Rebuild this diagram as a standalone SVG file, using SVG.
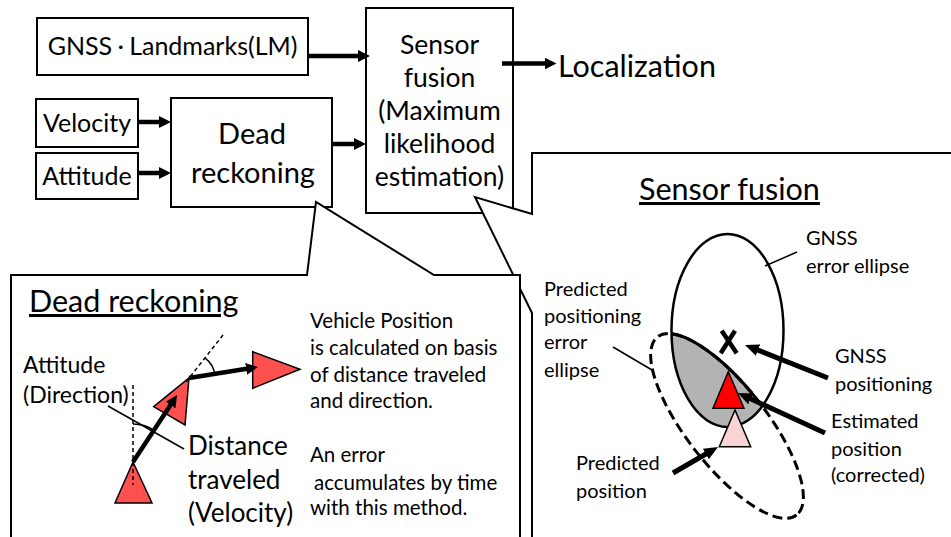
<svg xmlns="http://www.w3.org/2000/svg" width="951" height="537" viewBox="0 0 951 537">
<defs>
<style>
.box{fill:#fff;stroke:#000;stroke-width:2}
.t{font-family:Lato,"Noto Sans CJK JP",sans-serif;fill:#000}
.m{text-anchor:middle}
.arr{fill:none;stroke:#000;stroke-width:4.5;marker-end:url(#ah)}
.arr2{fill:none;stroke:#000;stroke-width:5;marker-end:url(#ah2)}
.thin{fill:none;stroke:#000;stroke-width:1.5}
.dash{fill:none;stroke:#000;stroke-width:1.5;stroke-dasharray:4 3}
.tri{fill:#ff5050;stroke:#000;stroke-width:1.5}
.callout{fill:#fff;stroke:#000;stroke-width:2}
</style>
<marker id="ah" viewBox="0 0 12 12" refX="7" refY="6" markerWidth="12" markerHeight="12" markerUnits="userSpaceOnUse" orient="auto"><path d="M0,0 L12,6 L0,12 z" fill="#000"/></marker>
<marker id="ah2" viewBox="0 0 14 12" refX="8" refY="6" markerWidth="14" markerHeight="12" markerUnits="userSpaceOnUse" orient="auto"><path d="M0,0 L14,6 L0,12 z" fill="#000"/></marker>
<clipPath id="gclip"><ellipse cx="727.5" cy="330.5" rx="56" ry="96.5"/></clipPath>
</defs>
<rect width="951" height="537" fill="#fff"/>

<g id="gnss-landmarks">
<rect class="box" x="37" y="18" width="271" height="57"/>
<text class="t m" x="172.5" y="55" font-size="25">GNSS<tspan font-size="17" dy="-1">・</tspan><tspan dy="1">Landmarks(LM)</tspan></text>
</g>
<g id="velocity">
<rect class="box" x="36" y="99" width="102" height="48"/>
<text class="t m" x="87" y="132" font-size="25">Velocity</text>
</g>
<g id="attitude">
<rect class="box" x="36" y="153" width="102" height="46"/>
<text class="t m" x="87" y="185" font-size="25">Attitude</text>
</g>
<g id="dead-reckoning">
<rect class="box" x="171" y="98" width="161" height="109"/>
<text class="t m" x="252" y="144" font-size="29">Dead</text>
<text class="t m" x="253" y="183" font-size="29">reckoning</text>
</g>
<g id="sensor-fusion">
<rect class="box" x="366" y="8" width="147" height="205"/>
<text class="t m" x="439.5" y="54" font-size="26.5">Sensor</text>
<text class="t m" x="439.5" y="87" font-size="26.5">fusion</text>
<text class="t m" x="439.5" y="120" font-size="26.5">(Maximum</text>
<text class="t m" x="439.5" y="153" font-size="26.5">likelihood</text>
<text class="t m" x="439.5" y="186" font-size="26.5">estimation)</text>
</g>
<g id="localization">
<text class="t" x="558" y="77" font-size="30.5">Localization</text>
</g>

<g id="connectors">
<path class="arr" d="M308,56 H365"/>
<path class="arr" d="M138,122 H166"/>
<path class="arr" d="M138,173 H166"/>
<path class="arr" d="M333,144 H361"/>
<path class="arr" d="M502,63.5 H551.5"/>
</g>

<g id="sensor-fusion-callout">
<path class="callout" d="M532,545 L532,313 L475,197 L532,214 L532,153 L960,153 L960,545 Z"/>
<text class="t" x="639" y="200" font-size="30.5" text-decoration="underline">Sensor fusion</text>
<g clip-path="url(#gclip)">
<ellipse cx="0" cy="0" rx="113" ry="40" transform="translate(727 426) rotate(52)" fill="#b3b3b3" stroke="#000" stroke-width="3"/>
</g>
<ellipse cx="727.5" cy="330.5" rx="56" ry="96.5" fill="none" stroke="#000" stroke-width="2.5"/>
<ellipse cx="0" cy="0" rx="113" ry="40" transform="translate(727 426) rotate(52)" fill="none" stroke="#000" stroke-width="3" stroke-dasharray="10 5"/>
<path d="M721.7,330.7 L736.7,353.3 M735,330.7 L720.7,353.3" stroke="#000" stroke-width="4.5" fill="none"/>
<path d="M719.3,446.7 L750.7,446.7 L735,410 Z" fill="#fad4d4" stroke="#000" stroke-width="1.5"/>
<path d="M713,408.3 L744,408.3 L728.3,371.7 Z" fill="#ff0000" stroke="#000" stroke-width="1.5"/>
<path class="arr2" d="M828,378 L750.6,347.2"/>
<path class="arr2" d="M825,433 L743.4,395.5"/>
<path class="arr2" d="M673,473 L712.8,450"/>
<path class="thin" d="M765,266 L797,252"/>
<path class="thin" d="M613,347 L652,370"/>
<text class="t" x="806" y="245" font-size="20">GNSS</text>
<text class="t" x="806" y="273" font-size="20">error ellipse</text>
<text class="t" x="544" y="296" font-size="20">Predicted</text>
<text class="t" x="544" y="323" font-size="20">positioning</text>
<text class="t" x="544" y="349" font-size="20">error</text>
<text class="t" x="544" y="377" font-size="20">ellipse</text>
<text class="t" x="835" y="363" font-size="20">GNSS</text>
<text class="t" x="835" y="391" font-size="20">positioning</text>
<text class="t" x="831" y="428" font-size="20">Estimated</text>
<text class="t" x="831" y="456" font-size="20">position</text>
<text class="t" x="831" y="482" font-size="20">(corrected)</text>
<text class="t" x="576" y="470" font-size="20">Predicted</text>
<text class="t" x="576" y="498" font-size="20">position</text>
</g>

<g id="dead-reckoning-callout">
<path class="callout" d="M11,545 L11,275 L307,275 L316,202 L434,275 L520,275 L520,545 Z"/>
<text class="t" x="29" y="312" font-size="30.5" text-decoration="underline">Dead reckoning</text>
<path class="tri" d="M115,503 L152,503 L133,462 Z"/>
<path class="dash" d="M133,385 V485"/>
<path class="tri" d="M153.7,406.7 L189,378 L185,425 Z"/>
<path class="tri" d="M252.7,351.7 L252.7,388.3 L300,369.3 Z"/>
<path class="dash" d="M186,382 L223,335"/>
<path class="thin" d="M133,424 A38,38 0 0 1 153.9,430.2"/>
<path class="thin" d="M205.2,358.2 A25,25 0 0 1 214.7,374"/>
<path class="thin" d="M108,406 L184,449"/>
<path fill="none" stroke="#000" stroke-width="4.5" marker-end="url(#ah)" d="M133,462 L174.3,399.2"/>
<path fill="none" stroke="#000" stroke-width="4.5" marker-end="url(#ah)" d="M189,378 L253,367.8"/>
<text class="t" x="23" y="373" font-size="23">Attitude</text>
<text class="t" x="23" y="403" font-size="23">(Direction)</text>
<text class="t" x="188" y="455" font-size="26">Distance</text>
<text class="t" x="188" y="489" font-size="26">traveled</text>
<text class="t" x="188" y="522" font-size="26">(Velocity)</text>
<text class="t" x="310" y="328" font-size="20.5">Vehicle Position</text>
<text class="t" x="310" y="355" font-size="20.5">is calculated on basis</text>
<text class="t" x="310" y="382" font-size="20.5">of distance traveled</text>
<text class="t" x="310" y="408" font-size="20.5">and direction.</text>
<text class="t" x="310" y="462" font-size="20.5">An error</text>
<text class="t" x="314" y="490" font-size="20.5">accumulates by time</text>
<text class="t" x="310" y="515" font-size="20.5">with this method.</text>
</g>
</svg>
